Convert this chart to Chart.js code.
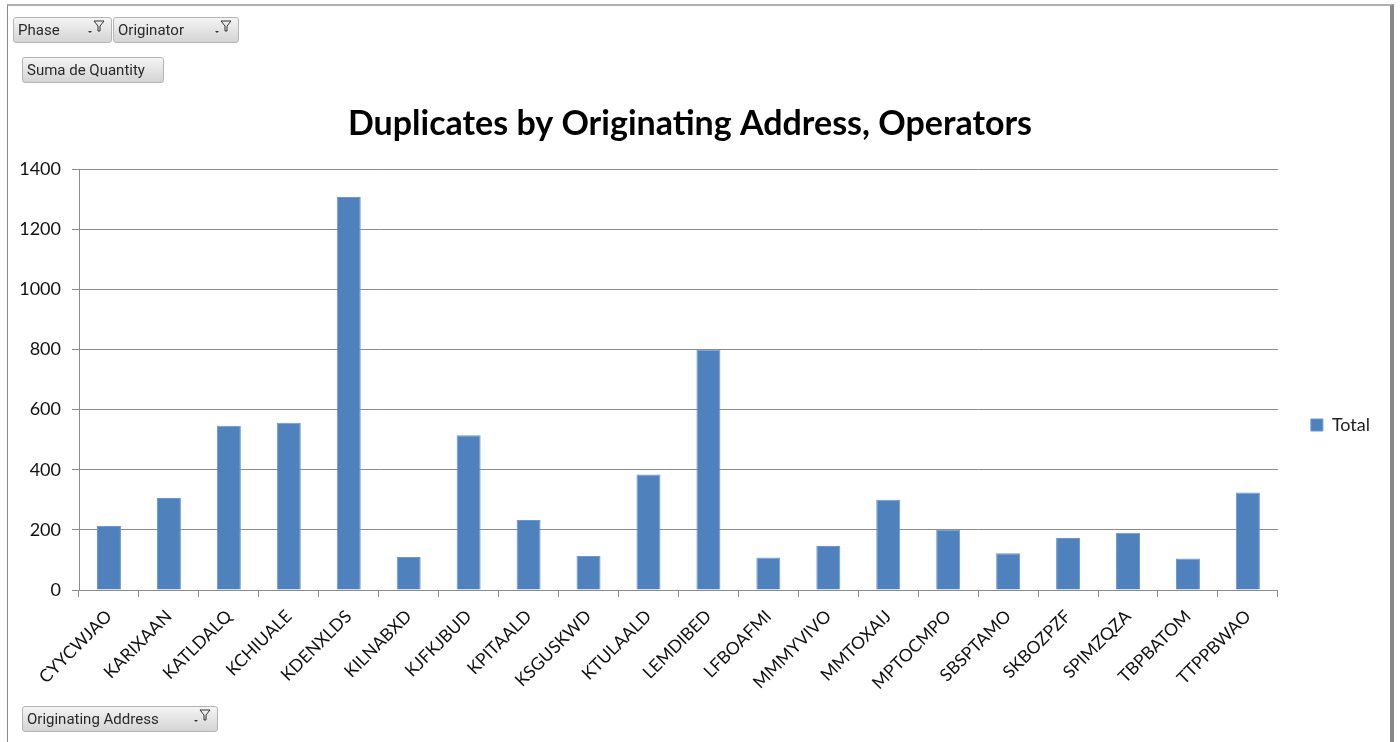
<!DOCTYPE html>
<html>
<head>
<meta charset="utf-8">
<script src="https://cdn.jsdelivr.net/npm/chart.js@4/dist/chart.umd.min.js"></script>
<style>
  html, body { margin: 0; padding: 0; background: #fff; }
  body { width: 1400px; height: 742px; position: relative; overflow: hidden; }
  #frame { position: absolute; left: 7px; top: 4px; width: 1382px; height: 745px;
           border-left: 1px solid #8a8a8a; border-top: 2px solid #b0b0b0; border-right: 4px solid #8a8a8a; }
  #wrap { position: absolute; left: 0; top: 0; width: 1400px; height: 742px; }
  .btn { position: absolute; height: 26px; box-sizing: border-box; border: 1px solid #b4b4b4; border-radius: 3px;
         background: linear-gradient(#f4f4f4, #d4d4d4); font: 15px "Roboto", sans-serif; color: #2a2a2a;
         line-height: 25px; padding-left: 4px; }
  .btn svg { position: absolute; right: 6px; top: 2px; }
</style>
</head>
<body>
<div id="frame"></div>
<div id="wrap"><canvas id="dupChart" width="1400" height="742"></canvas></div>
<div class="btn" style="left:13px;top:17px;width:99px;">Phase<svg width="18" height="14"><path d="M1 11h4l-2 2z" fill="#333"/><path d="M7 1h10l-4 5v5h-2v-5z" fill="none" stroke="#333" stroke-width="1"/></svg></div>
<div class="btn" style="left:113px;top:17px;width:126px;">Originator<svg width="18" height="14"><path d="M1 11h4l-2 2z" fill="#333"/><path d="M7 1h10l-4 5v5h-2v-5z" fill="none" stroke="#333" stroke-width="1"/></svg></div>
<div class="btn" style="left:22px;top:57px;width:142px;">Suma de Quantity</div>
<div class="btn" style="left:22px;top:706px;width:196px;">Originating Address<svg width="18" height="14"><path d="M1 11h4l-2 2z" fill="#333"/><path d="M7 1h10l-4 5v5h-2v-5z" fill="none" stroke="#333" stroke-width="1"/></svg></div>
<script>
var addresses = ['CYYCWJAO','KARIXAAN','KATLDALQ','KCHIUALE','KDENXLDS','KILNABXD','KJFKJBUD','KPITAALD','KSGUSKWD','KTULAALD',
                 'LEMDIBED','LFBOAFMI','MMMYVIVO','MMTOXAIJ','MPTOCMPO','SBSPTAMO','SKBOZPZF','SPIMZQZA','TBPBATOM','TTPPBWAO']
var totals = [213, 306, 546, 556, 1307, 110, 515, 233, 113, 384,
              800, 108, 146, 300, 200, 122, 173, 190, 105, 324]
var yTicks = [0, 200, 400, 600, 800, 1000, 1200, 1400]

var ctx = document.getElementById('dupChart').getContext('2d')

var dupChart = new Chart(ctx, {
    type: 'bar',
    data: {
        labels: addresses,
        datasets: [{
            label: 'Total',
            data: totals,
            backgroundColor: '#4F81BD',
            borderColor: '#6b97cc',
            borderWidth: 1,
            barPercentage: 0.8,
            categoryPercentage: 0.5
        }]
    },
    options: {
        responsive: false,
        animation: false,
        layout: { padding: { top: 108, bottom: 0, left: 0, right: 20 } },
        plugins: {
            title: {
                display: true,
                text: 'Duplicates by Originating Address, Operators',
                color: '#000',
                font: { family: 'Lato', size: 34, weight: 'bold', lineHeight: 1 },
                padding: { top: -1, bottom: 28 }
            },
            legend: {
                position: 'right',
                labels: {
                    boxWidth: 12,
                    boxHeight: 12,
                    padding: 33,
                    color: '#222',
                    font: { family: 'Lato', size: 18 }
                }
            },
            tooltip: { enabled: false }
        },
        scales: {
            x: {
                afterFit: function (scale) { scale.height = 152 },
                grid: { drawOnChartArea: false, drawTicks: true, tickLength: 7, color: '#8c8c8c' },
                border: { color: '#8c8c8c' },
                ticks: { minRotation: 45, maxRotation: 45, autoSkip: false, padding: 9, color: '#111',
                         font: { family: 'Lato', size: 17.5 } }
            },
            y: {
                min: 0,
                max: 1400,
                afterFit: function (scale) { scale.width = 79 },
                afterBuildTicks: function (scale) { scale.ticks = yTicks.map(function (v) { return { value: v } }) },
                grid: { color: '#8c8c8c', tickLength: 7 },
                border: { color: '#8c8c8c' },
                ticks: { padding: 11, color: '#111', font: { family: 'Lato', size: 18 },
                         callback: function (v) { return String(v) } }
            }
        }
    }
})
</script>
</body>
</html>
